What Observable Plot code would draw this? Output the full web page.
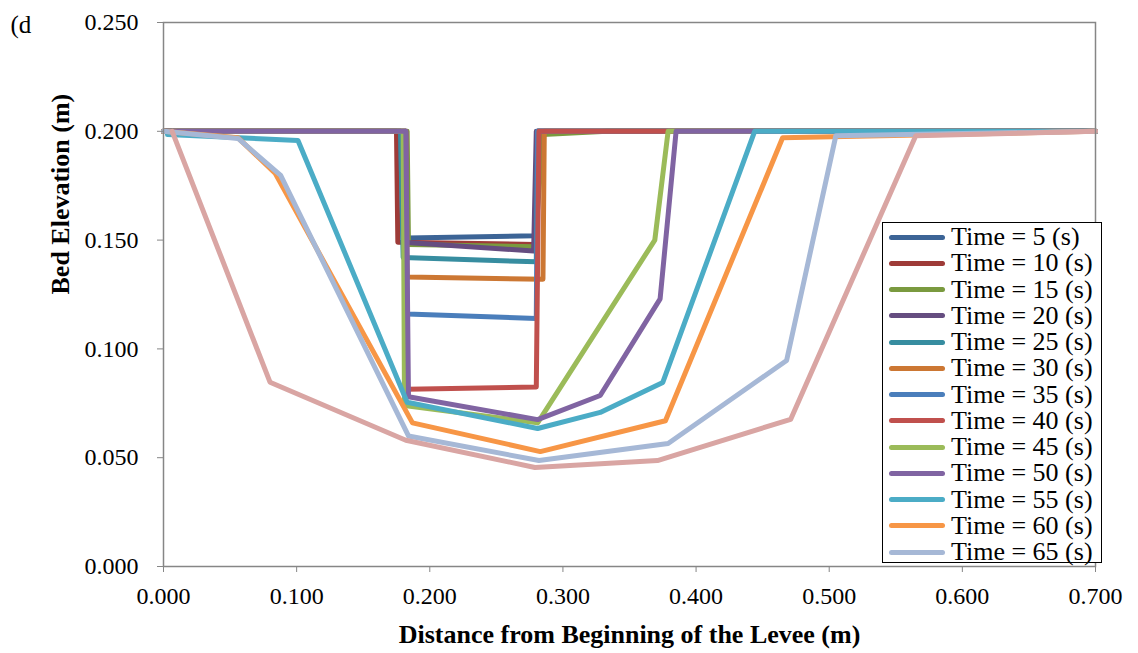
<!DOCTYPE html>
<html>
<head>
<meta charset="utf-8">
<script src="https://cdn.jsdelivr.net/npm/d3@7"></script>
<script src="https://cdn.jsdelivr.net/npm/@observablehq/plot@0.6"></script>
<style>
  html, body { margin: 0; padding: 0; background: #fff; }
  #wrap { position: relative; width: 1138px; height: 653px; overflow: hidden; }
  #legend { position: absolute; left: 882px; top: 222px; width: 218px; height: 339px;
            border: 1.5px solid #000; background: #fff; font-family: "Liberation Serif", "Times New Roman", serif; }
  .row { position: absolute; left: 0; height: 26px; display: flex; align-items: center; }
  .sw { width: 56px; height: 5px; border-radius: 3px; margin-left: 6px; margin-right: 6px; }
  .lb { font-size: 26px; color: #000; white-space: nowrap; line-height: 26px; }
</style>
</head>
<body>
<div id="wrap"></div>
<script>
// ---- data ----
const seriesNames = ["Time = 5 (s)","Time = 10 (s)","Time = 15 (s)","Time = 20 (s)","Time = 25 (s)","Time = 30 (s)","Time = 35 (s)","Time = 40 (s)","Time = 45 (s)","Time = 50 (s)","Time = 55 (s)","Time = 60 (s)","Time = 65 (s)","Time = 70 (s)"];
const seriesColors = ["#3C6496","#9E3B38","#7A9A3F","#654D80","#378DA0","#CC7733","#4A7EBB","#C0504D","#9BBB59","#8064A2","#4BACC6","#F79646","#A6B8D6","#D9A5A3"];
const legendCount = 13; // the legend box shows only the first 13 series

const s5x  = [0, 0.182, 0.183, 0.279, 0.281, 0.700];
const s5y  = [0.200, 0.200, 0.151, 0.152, 0.200, 0.200];
const s10x = [0, 0.175, 0.176, 0.279, 0.281, 0.700];
const s10y = [0.200, 0.200, 0.149, 0.148, 0.200, 0.200];
const s15x = [0, 0.183, 0.184, 0.279, 0.285, 0.333, 0.700];
const s15y = [0.200, 0.200, 0.148, 0.147, 0.1985, 0.200, 0.200];
const s20x = [0, 0.178, 0.180, 0.278, 0.280, 0.700];
const s20y = [0.200, 0.200, 0.149, 0.145, 0.200, 0.200];
const s25x = [0, 0.178, 0.180, 0.280, 0.281, 0.700];
const s25y = [0.200, 0.200, 0.142, 0.140, 0.200, 0.200];
const s30x = [0, 0.182, 0.183, 0.285, 0.286, 0.700];
const s30y = [0.200, 0.200, 0.133, 0.132, 0.200, 0.200];
const s35x = [0, 0.182, 0.183, 0.280, 0.281, 0.700];
const s35y = [0.200, 0.200, 0.116, 0.114, 0.200, 0.200];
const s40x = [0, 0.182, 0.183, 0.280, 0.282, 0.700];
const s40y = [0.200, 0.200, 0.0815, 0.0825, 0.200, 0.200];
const s45x = [0, 0.180, 0.181, 0.281, 0.369, 0.379, 0.700];
const s45y = [0.200, 0.200, 0.074, 0.066, 0.150, 0.200, 0.200];
const s50x = [0, 0.182, 0.184, 0.281, 0.328, 0.373, 0.385, 0.700];
const s50y = [0.200, 0.200, 0.078, 0.0675, 0.0786, 0.123, 0.200, 0.200];
const s55x = [0.003, 0.101, 0.183, 0.281, 0.328, 0.375, 0.444, 0.700];
const s55y = [0.1985, 0.1958, 0.0755, 0.0634, 0.0708, 0.0846, 0.200, 0.200];
const s60x = [0, 0.056, 0.084, 0.187, 0.283, 0.377, 0.465, 0.700];
const s60y = [0.200, 0.197, 0.1806, 0.066, 0.0528, 0.067, 0.197, 0.200];
const s65x = [0, 0.056, 0.088, 0.184, 0.282, 0.379, 0.468, 0.505, 0.700];
const s65y = [0.200, 0.1967, 0.1797, 0.060, 0.0487, 0.0565, 0.0947, 0.198, 0.200];
const s70x = [0.0065, 0.080, 0.182, 0.279, 0.371, 0.471, 0.565, 0.700];
const s70y = [0.200, 0.0847, 0.058, 0.0455, 0.0487, 0.0676, 0.198, 0.200];

const xsAll = [s5x,s10x,s15x,s20x,s25x,s30x,s35x,s40x,s45x,s50x,s55x,s60x,s65x,s70x];
const ysAll = [s5y,s10y,s15y,s20y,s25y,s30y,s35y,s40y,s45y,s50y,s55y,s60y,s65y,s70y];

const xTicks = [0, 0.1, 0.2, 0.3, 0.4, 0.5, 0.6, 0.7];
const yTicks = [0, 0.05, 0.1, 0.15, 0.2, 0.25];

const panelLabel = "(d";
const xTitle = "Distance from Beginning of the Levee (m)";
const yTitle = "Bed Elevation (m)";

// ---- build table ----
const rows = [];
xsAll.forEach((xs, i) => xs.forEach((x, j) => rows.push({series: seriesNames[i], x, y: ysAll[i][j]})));

const serif = "'Liberation Serif', 'Times New Roman', serif";
const fmt = d3.format(".3f");

const chart = Plot.plot({
  width: 1138,
  height: 653,
  marginLeft: 163,
  marginRight: 43,
  marginTop: 22,
  marginBottom: 87,
  style: {fontFamily: serif, fontSize: "24px", color: "#000", background: "#fff"},
  x: {domain: [0, 0.7]},
  y: {domain: [0, 0.25]},
  color: {domain: seriesNames, range: seriesColors},
  marks: [
    Plot.line(rows, {x: "x", y: "y", z: "series", stroke: "series", strokeWidth: 5,
                     strokeLinejoin: "round", strokeLinecap: "round"}),
    Plot.frame({stroke: "#868686", strokeWidth: 1.5}),
    Plot.axisX({ticks: xTicks, tickFormat: fmt, tickSize: 6, tickPadding: 14, stroke: "#868686",
                fontSize: 24, label: null}),
    Plot.axisY({ticks: yTicks, tickFormat: fmt, tickSize: 6, tickPadding: 19, stroke: "#868686",
                fontSize: 24, label: null}),
    Plot.text([xTitle], {text: d => d, frameAnchor: "bottom", dy: 68, fontWeight: "bold", fontSize: 26,
                         lineAnchor: "middle"}),
    Plot.text([yTitle], {text: d => d, frameAnchor: "left", dx: -103, rotate: -90, fontWeight: "bold",
                         fontSize: 26, lineAnchor: "middle"}),
    Plot.text([panelLabel], {text: d => d, frameAnchor: "top-left", dx: -153, dy: 2, textAnchor: "start",
                             fontSize: 25, lineAnchor: "middle"})
  ]
});

const wrap = document.getElementById("wrap");
wrap.appendChild(chart);

// legend overlay
const legend = document.createElement("div");
legend.id = "legend";
for (let i = 0; i < legendCount; i++) {
  const r = document.createElement("div");
  r.className = "row";
  r.style.top = (1 + i * 26.25) + "px";
  const sw = document.createElement("div");
  sw.className = "sw";
  sw.style.background = seriesColors[i];
  const lb = document.createElement("span");
  lb.className = "lb";
  lb.textContent = seriesNames[i];
  r.appendChild(sw); r.appendChild(lb);
  legend.appendChild(r);
}
wrap.appendChild(legend);
</script>
</body>
</html>
